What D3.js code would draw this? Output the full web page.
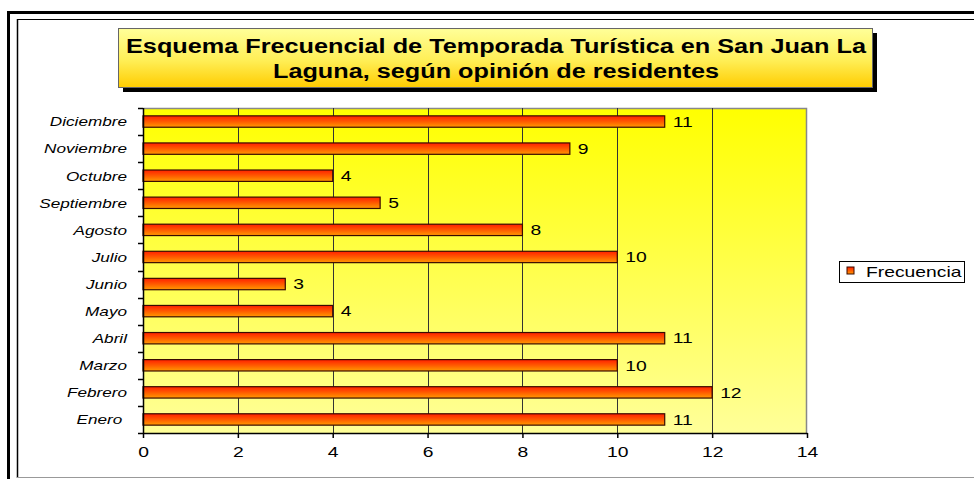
<!DOCTYPE html>
<html>
<head>
<meta charset="utf-8">
<script src="https://cdn.jsdelivr.net/npm/d3@7"></script>
<style>
  body { margin: 0; background: #fff; }
  svg { display: block; font-family: "Liberation Sans", Arial, sans-serif; }
</style>
</head>
<body>
<svg id="chart" width="974" height="479"></svg>
<script>
// months listed top to bottom, as drawn
const months = ["Diciembre", "Noviembre", "Octubre", "Septiembre", "Agosto", "Julio",
                "Junio", "Mayo", "Abril", "Marzo", "Febrero", "Enero "];
const frecuencia = [11, 9, 4, 5, 8, 10, 3, 4, 11, 10, 12, 11];
const xTicks = [0, 2, 4, 6, 8, 10, 12, 14];
const titleLines = ["Esquema Frecuencial de Temporada Turística en San Juan La",
                    "Laguna, según opinión de residentes"];
const seriesName = "Frecuencia";

const layout = {left: 143, right: 807, top: 108, bottom: 433};

const svg = d3.select("#chart");
const defs = svg.append("defs");

function vGrad(id, stops) {
  const g = defs.append("linearGradient").attr("id", id)
    .attr("x1", 0).attr("y1", 0).attr("x2", 0).attr("y2", 1);
  stops.forEach(s => g.append("stop").attr("offset", s[0]).attr("stop-color", s[1]));
}
vGrad("plotBg", [[0, "#ffff00"], [1, "#ffff99"]]);
vGrad("barFill", [[0, "#ff2000"], [0.5, "#ff5a00"], [1, "#ff9a00"]]);
vGrad("titleFill", [[0, "#ffff99"], [0.55, "#ffee55"], [1, "#ffcc00"]]);

// the original picture is wider than tall, so glyphs are stretched sideways
function stretch(sel, k) {
  sel.each(function() {
    const w = this.getComputedTextLength();
    d3.select(this).attr("textLength", w * k).attr("lengthAdjust", "spacingAndGlyphs");
  });
}

// outer frames
svg.append("rect").attr("x", 8.5).attr("y", 12.5).attr("width", 1000).attr("height", 1000)
  .attr("fill", "none").attr("stroke", "#000").attr("stroke-width", 3);
svg.append("line").attr("x1", 17.5).attr("x2", 17.5).attr("y1", 19).attr("y2", 478)
  .attr("stroke", "#000").attr("stroke-width", 1.5);
svg.append("line").attr("x1", 17).attr("x2", 974).attr("y1", 19.5).attr("y2", 19.5)
  .attr("stroke", "#000");
svg.append("line").attr("x1", 17).attr("x2", 974).attr("y1", 477.5).attr("y2", 477.5)
  .attr("stroke", "#999");

// title box with shadow
svg.append("rect").attr("x", 123).attr("y", 33).attr("width", 754).attr("height", 59).attr("fill", "#000");
svg.append("rect").attr("x", 118.5).attr("y", 28.5).attr("width", 754).attr("height", 59)
  .attr("fill", "url(#titleFill)").attr("stroke", "#666");
const titleWidths = [740, 446];
svg.append("g").selectAll("text")
  .data(titleLines)
  .join("text")
  .attr("x", (d, i) => 496 - titleWidths[i] / 2)
  .attr("y", (d, i) => 53 + i * 25)
  .attr("textLength", (d, i) => titleWidths[i])
  .attr("lengthAdjust", "spacingAndGlyphs")
  .attr("font-size", 20)
  .attr("font-weight", "bold")
  .attr("fill", "#000")
  .text(d => d);

const x = d3.scaleLinear().domain([0, 14]).range([layout.left, layout.right]);
const y = d3.scaleBand().domain(months).range([layout.top, layout.bottom])
  .paddingInner(0.58).paddingOuter(0.29);

// plot area
svg.append("rect").attr("x", layout.left).attr("y", layout.top)
  .attr("width", layout.right - layout.left).attr("height", layout.bottom - layout.top)
  .attr("fill", "url(#plotBg)");
svg.append("path")
  .attr("d", `M${layout.left},${layout.top + 0.5}H${layout.right - 0.5}V${layout.bottom}`)
  .attr("fill", "none").attr("stroke", "#888").attr("stroke-width", 1.5);

// gridlines
svg.append("g").selectAll("line")
  .data(xTicks.filter(t => t > 0 && t < 14))
  .join("line")
  .attr("x1", d => Math.round(x(d)) + 0.5).attr("x2", d => Math.round(x(d)) + 0.5)
  .attr("y1", layout.top).attr("y2", layout.bottom)
  .attr("stroke", "#333");

// bars
svg.append("g").selectAll("rect")
  .data(months)
  .join("rect")
  .attr("x", layout.left)
  .attr("y", d => y(d))
  .attr("width", (d, i) => x(frecuencia[i]) - layout.left)
  .attr("height", y.bandwidth())
  .attr("fill", "url(#barFill)")
  .attr("stroke", "#3a0a00")
  .attr("stroke-width", 1.2);

// value labels
svg.append("g").selectAll("text")
  .data(months)
  .join("text")
  .attr("x", (d, i) => x(frecuencia[i]) + 8)
  .attr("y", d => y(d) + y.bandwidth() / 2)
  .attr("dy", "0.36em")
  .attr("font-size", 14.5)
  .attr("fill", "#000")
  .text((d, i) => frecuencia[i])
  .call(stretch, 1.33);

// y axis: ticks between categories
const step = y.step();
const yAxis = svg.append("g");
yAxis.append("line").attr("x1", layout.left + 0.5).attr("x2", layout.left + 0.5)
  .attr("y1", layout.top).attr("y2", layout.bottom + 1).attr("stroke", "#000").attr("stroke-width", 1.5);
yAxis.selectAll(".tk")
  .data(d3.range(months.length + 1))
  .join("line")
  .attr("class", "tk")
  .attr("x1", layout.left - 5).attr("x2", layout.left)
  .attr("y1", i => Math.round(layout.top + i * step) + 0.5)
  .attr("y2", i => Math.round(layout.top + i * step) + 0.5)
  .attr("stroke", "#000").attr("stroke-width", 1.5);
yAxis.selectAll("text")
  .data(months)
  .join("text")
  .attr("x", 127)
  .attr("y", d => y(d) + y.bandwidth() / 2)
  .attr("dy", "0.36em")
  .attr("text-anchor", "end")
  .attr("font-size", 13.5)
  .attr("font-style", "italic")
  .style("white-space", "pre")
  .attr("fill", "#000")
  .text(d => d)
  .call(stretch, 1.27);

// x axis
const xAxis = svg.append("g")
  .attr("transform", `translate(0,${layout.bottom})`)
  .call(d3.axisBottom(x).tickValues(xTicks).tickSize(5).tickPadding(9).tickSizeOuter(0));
xAxis.select(".domain").attr("stroke", "#000").attr("stroke-width", 1.5);
xAxis.selectAll(".tick line").attr("stroke", "#000").attr("stroke-width", 1.5);
xAxis.selectAll(".tick text")
  .attr("font-size", 14.5)
  .attr("font-family", "Liberation Sans, Arial, sans-serif")
  .attr("fill", "#000")
  .call(stretch, 1.33);

// legend
const legend = svg.append("g");
legend.append("rect").attr("x", 839.5).attr("y", 261.5).attr("width", 125).attr("height", 21)
  .attr("fill", "#fff").attr("stroke", "#000");
legend.append("rect").attr("x", 847).attr("y", 267).attr("width", 7).attr("height", 7)
  .attr("fill", "url(#barFill)").attr("stroke", "#3a0a00");
legend.append("text").attr("x", 866).attr("y", 272).attr("dy", "0.36em")
  .attr("font-size", 14.5).attr("fill", "#000")
  .text(seriesName)
  .call(stretch, 1.33);
</script>
</body>
</html>
